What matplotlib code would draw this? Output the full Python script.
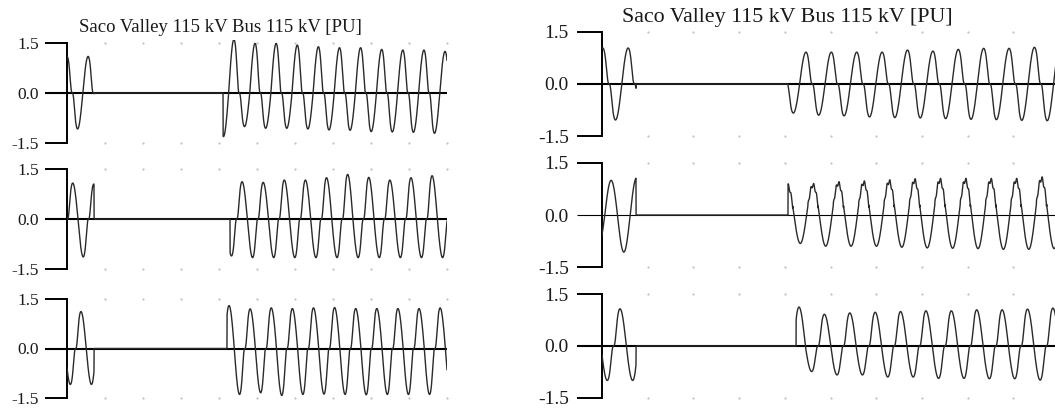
import numpy as np
import matplotlib.pyplot as plt

plt.rcParams['font.family'] = ['Liberation Serif', 'DejaVu Serif']

T_CYCLE = 1000.0 / 60.0   # ms, 60 Hz
T_END = 300.0             # ms shown
TITLE = "Saco Valley 115 kV Bus 115 kV [PU]"
TICKS = [-1.5, 0.0, 1.5]
TICK_LABELS = ["-1.5", "0.0", "1.5"]

# lobes = successive half-cycle peaks (signed)
# ---- left record: phases A, B, C ----
left_pre_peak = [0.0, 4.5, 11.0]
left_pre_end = 21.3
left_pre_lobes = [[1.1, -1.08, 1.1, -1.05],
                  [-1.0, 1.08, -1.14, 1.05],
                  [-1.08, 1.11, -1.08]]
left_post_start = [123.2, 128.7, 126.3]
left_post_peak = [131.8, 138.2, 127.9]
left_post_lobes = [
    [-1.31, 1.61, -1.01, 1.49, -1.06, 1.49, -1.06, 1.44, -1.08, 1.39, -1.11,
     1.36, -1.12, 1.36, -1.16, 1.31, -1.17, 1.29, -1.18, 1.29, -1.21, 1.25],
    [-1.11, 1.12, -1.16, 1.1, -1.16, 1.17, -1.16, 1.17, -1.16, 1.24, -1.16,
     1.34, -1.16, 1.25, -1.16, 1.17, -1.16, 1.24, -1.16, 1.3, -1.16],
    [1.29, -1.38, 1.19, -1.33, 1.22, -1.41, 1.2, -1.38, 1.22, -1.37, 1.23,
     -1.38, 1.2, -1.39, 1.2, -1.38, 1.2, -1.38, 1.2, -1.38, 1.22, -1.38],
]
left_kink = [1, -1, -1]
left_ripple = [0.0, 0.0, 0.0]

# ---- right record: phases A, B, C ----
right_pre_peak = [0.5, 6.0, 11.8]
right_pre_end = 22.3
right_pre_lobes = [[1.04, -1.04, 1.04, -1.0],
                   [-0.9, 1.0, -1.07, 1.07],
                   [-1.0, 1.08, -1.0]]
right_post_start = [122.1, 122.1, 127.4]
right_post_peak = [133.9, 138.5, 129.3]
right_post_lobes = [
    [-0.84, 0.92, -0.9, 0.92, -0.92, 0.92, -0.95, 0.92, -0.97, 0.98, -0.98,
     0.95, -1.0, 1.0, -1.02, 1.03, -1.03, 1.03, -1.05, 1.06, -1.06, 1.06],
    [0.85, -0.82, 0.86, -0.9, 0.91, -0.9, 0.93, -0.9, 0.96, -0.93, 0.99,
     -0.95, 1.0, -0.96, 1.0, -0.97, 1.0, -0.99, 1.0, -0.99, 1.04, -0.97],
    [1.13, -0.74, 0.92, -0.84, 0.96, -0.84, 0.98, -0.9, 1.0, -0.9, 1.02,
     -0.94, 1.02, -0.94, 1.05, -0.95, 1.05, -0.95, 1.07, -0.99, 1.1, -0.99],
]
right_kink = [1, 0, -1]
right_ripple = [0.0, 0.07, 0.0]

grid_t = [30, 60, 90, 120, 150, 180, 210, 240, 270, 300]


def segment(t, t0, t1, tp, lobes, kink=0, ripple=0.0):
    y = np.zeros_like(t)
    m = (t >= t0) & (t <= t1)
    h = 2 * (t[m] - tp) / T_CYCLE
    k = np.floor(h + 0.5).astype(int)
    k0 = int(np.floor(2 * (t0 - tp) / T_CYCLE + 0.5))
    amp = np.abs(np.array(lobes))[np.clip(k - k0, 0, len(lobes) - 1)]
    th = np.pi * h
    v = np.cos(th)
    if kink:
        # flat spot at the zero crossing (descending: +1, rising: -1)
        phi = np.angle(np.exp(1j * (th - kink * np.pi / 2)))
        v = v * (1 - 0.95 * np.exp(-(phi / 0.6) ** 2))
    if ripple:
        v = v + ripple * np.sin(9 * th) * (v > 0.3)
    y[m] = amp * v
    return y


fig = plt.figure(figsize=(10.55, 4.08), dpi=100)
W, H = 1055.0, 408.0


def add_axes(x0, x1, y0, unit):
    half = 1.6 * unit
    return fig.add_axes([x0 / W, (H - y0 - half) / H, (x1 - x0) / W, 2 * half / H])


def style(ax, fs, tlen, pad, zero_lw):
    ax.set_xlim(0, T_END)
    ax.set_ylim(-1.6, 1.6)
    ax.patch.set_visible(False)
    for s in ['top', 'right', 'bottom']:
        ax.spines[s].set_visible(False)
    ax.spines['left'].set_bounds(-1.5, 1.5)
    ax.spines['left'].set_linewidth(1.4)
    ax.set_xticks([])
    ax.set_yticks(TICKS)
    ax.set_yticklabels(TICK_LABELS)
    ax.tick_params(axis='y', direction='out', length=tlen, width=1.4, pad=pad,
                   labelsize=fs, labelcolor='#1a1a1a')
    ax.yaxis.get_major_ticks()[1].tick1line.set_markeredgewidth(zero_lw)
    ax.axhline(0, color='k', lw=zero_lw, zorder=1)
    gx = grid_t * 2
    gy = [-1.5] * len(grid_t) + [1.5] * len(grid_t)
    ax.scatter(gx, gy, s=2.5, color='#c0c0c0', lw=0, clip_on=False, zorder=0)


t = np.arange(0, T_END + 0.01, 0.02)

panels = [
    (67, 447, [93, 219, 348.5], [33.33, 33.33, 33.33], 12.5, 15.8, 4.3, [1.5, 1.5, 1.5],
     left_pre_peak, left_pre_end, left_pre_lobes, left_post_start, left_post_peak,
     left_post_lobes, left_kink, left_ripple),
    (602, 1059, [84, 215, 346], [34.67, 34.67, 34.5], 14.0, 18.0, 5.8, [1.5, 0.8, 1.5],
     right_pre_peak, right_pre_end, right_pre_lobes, right_post_start, right_post_peak,
     right_post_lobes, right_kink, right_ripple),
]

for (x0, x1, zeros, units, fs, tlen, pad, zlw, pre_pk, pre_end, pre_lb,
     post_st, post_pk, post_lb, kinks, ripples) in panels:
    for i in range(3):
        ax = add_axes(x0, x1, zeros[i], units[i])
        style(ax, fs, tlen, pad, zlw[i])
        y = segment(t, 0.0, pre_end, pre_pk[i], pre_lb[i], kinks[i])
        y = y + segment(t, post_st[i], T_END, post_pk[i], post_lb[i], kinks[i], ripples[i])
        ax.plot(t, y, color='#2a2a2a', lw=1.0, zorder=3)

fig.text(220 / W, 1 - 32 / H, TITLE, ha='center', va='baseline', fontsize=13.5, color='#1a1a1a')
fig.text(787 / W, 1 - 22 / H, TITLE, ha='center', va='baseline', fontsize=15.8, color='#1a1a1a')

fig.savefig('out.png', dpi=100)
